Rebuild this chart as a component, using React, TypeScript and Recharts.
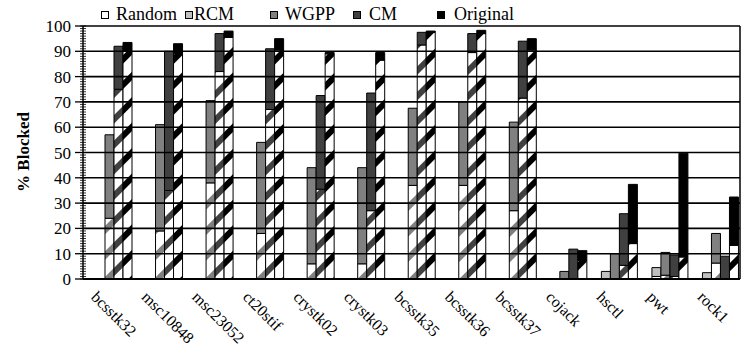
import React from "react";
import { BarChart, Bar, XAxis, YAxis, ReferenceLine } from "recharts";

const CATEGORIES = [
  "bcsstk32", "msc10848", "msc23052", "ct20stif", "crystk02", "crystk03",
  "bcsstk35", "bcsstk36", "bcsstk37", "cojack", "hsctl", "pwt", "rock1",
];

// total bar height, and the hatched (lower) part of it
const RANDOM_TOTAL = [0, 0, 0, 0, 0, 0, 0, 0, 0, 0, 0, 0, 0];
const RANDOM_HATCHED = [0, 0, 0, 0, 0, 0, 0, 0, 0, 0, 0, 0, 0];
const RCM_TOTAL = [0, 0, 0, 0, 0, 0, 0, 0, 0, 0, 3, 4.5, 2.5];
const RCM_HATCHED = [0, 0, 0, 0, 0, 0, 0, 0, 0, 0, 0, 1, 0];
const WGPP_TOTAL = [57, 61, 70.5, 54, 44, 44, 67.5, 70, 62, 3, 10, 10.5, 18];
const WGPP_HATCHED = [24, 19, 38, 18, 6, 6, 37, 37, 27, 0, 0, 1.5, 6.3];
const CM_TOTAL = [92, 90, 97, 91, 72.5, 73.5, 97.5, 97, 94, 11.8, 25.8, 9.5, 9];
const CM_HATCHED = [75, 35, 82, 67, 35.5, 27, 92.5, 89.5, 71.5, 0, 5.4, 1, 0];
const ORIG_TOTAL = [93.5, 93, 98, 95, 89.5, 89.5, 98, 98.3, 95, 11.2, 37.4, 49.7, 32.4];
const ORIG_HATCHED = [90, 89, 95.5, 90.5, 89, 86.5, 97.5, 97, 90.5, 7.4, 14, 8.7, 13.3];

const MAJOR_TICKS = [0, 10, 20, 30, 40, 50, 60, 70, 80, 90, 100];
const MINOR_TICKS = Array.from({ length: 101 }, (_, i) => i);

const SERIES = [
  { key: "random", name: "Random", color: "#ffffff", total: RANDOM_TOTAL, hatched: RANDOM_HATCHED },
  { key: "rcm", name: "RCM", color: "#c0c0c0", total: RCM_TOTAL, hatched: RCM_HATCHED },
  { key: "wgpp", name: "WGPP", color: "#808080", total: WGPP_TOTAL, hatched: WGPP_HATCHED },
  { key: "cm", name: "CM", color: "#404040", total: CM_TOTAL, hatched: CM_HATCHED },
  { key: "orig", name: "Original", color: "#000000", total: ORIG_TOTAL, hatched: ORIG_HATCHED },
];

const data = CATEGORIES.map((name, i) => {
  const row: Record<string, string | number> = { name };
  SERIES.forEach((s) => {
    row[s.key + "H"] = s.hatched[i];
    row[s.key + "T"] = s.total[i] - s.hatched[i];
  });
  return row;
});

const FONT = "'Liberation Serif', 'Times New Roman', serif";

function LeftTick({ x, y, payload }: any) {
  const v = payload.value;
  const major = v % 10 === 0;
  return (
    <g>
      <line x1={x - 3} x2={x + 3} y1={y} y2={y} stroke="#000" strokeWidth={0.8} />
      {major && <line x1={x - 8} x2={x} y1={y} y2={y} stroke="#000" strokeWidth={1.3} />}
      {major && (
        <text x={x - 12} y={y} dy={6} textAnchor="end" fontSize={17} fontFamily={FONT} fill="#000">
          {v}
        </text>
      )}
    </g>
  );
}

function RightTick({ x, y }: any) {
  return <line x1={x - 3} x2={x + 3} y1={y} y2={y} stroke="#000" strokeWidth={0.8} />;
}

function CatTick({ x, y, payload }: any) {
  const tx = x - 18;
  const ty = y + 19;
  return (
    <text
      x={tx}
      y={ty}
      transform={`rotate(45, ${tx}, ${ty})`}
      fontSize={16}
      fontFamily={FONT}
      fill="#000"
    >
      {payload.value}
    </text>
  );
}

const LEGEND_SQ = [101, 185, 270, 353, 437];
const LEGEND_TX = [116, 194, 285, 369, 454];

function LegendOverlay() {
  return (
    <>
      {SERIES.map((s, i) => (
        <React.Fragment key={s.key}>
          <div
            style={{
              position: "absolute",
              left: LEGEND_SQ[i],
              top: 11,
              width: 6,
              height: 6,
              background: s.color,
              border: "1px solid #000",
            }}
          />
          <div
            style={{
              position: "absolute",
              left: LEGEND_TX[i],
              top: 4,
              lineHeight: "20px",
              fontSize: 18,
              fontFamily: FONT,
              color: "#000",
              whiteSpace: "nowrap",
            }}
          >
            {s.name}
          </div>
        </React.Fragment>
      ))}
    </>
  );
}

export default function App() {
  return (
    <div style={{ position: "absolute", left: 0, top: 0, width: 744, height: 350, background: "#fff" }}>
      <BarChart
        width={744}
        height={350}
        data={data}
        margin={{ top: 26, right: 0, left: 0, bottom: 0 }}
        barCategoryGap={4}
        barGap={0}
      >
        <defs>
          {SERIES.map((s) => (
            <pattern
              key={s.key}
              id={`hatch-${s.key}`}
              width={18}
              height={18}
              patternUnits="userSpaceOnUse"
              patternTransform="rotate(45)"
            >
              <rect x={0} y={0} width={18} height={18} fill="#fff" />
              <rect x={0} y={0} width={6} height={18} fill={s.color} />
            </pattern>
          ))}
        </defs>
        <XAxis
          dataKey="name"
          height={71}
          interval={0}
          tickLine={false}
          tickSize={0}
          tickMargin={0}
          tick={<CatTick />}
          axisLine={{ stroke: "#000", strokeWidth: 2 }}
        />
        <YAxis
          width={83}
          domain={[0, 100]}
          ticks={MINOR_TICKS}
          interval={0}
          tickLine={false}
          tickSize={0}
          tickMargin={0}
          tick={<LeftTick />}
          axisLine={{ stroke: "#000", strokeWidth: 1.5 }}
        />
        <YAxis
          yAxisId="right"
          orientation="right"
          width={4}
          domain={[0, 100]}
          ticks={MINOR_TICKS}
          interval={0}
          tickLine={false}
          tickSize={0}
          tickMargin={0}
          tick={<RightTick />}
          axisLine={{ stroke: "#000", strokeWidth: 1.5 }}
        />
        {MAJOR_TICKS.slice(1).map((v) => (
          <ReferenceLine key={v} y={v} stroke="#000" strokeWidth={1.6} />
        ))}
        {SERIES.map((s) => [
          <Bar
            key={s.key + "H"}
            dataKey={s.key + "H"}
            stackId={s.key}
            fill={`url(#hatch-${s.key})`}
            stroke="#000"
            strokeWidth={1}
            isAnimationActive={false}
          />,
          <Bar
            key={s.key + "T"}
            dataKey={s.key + "T"}
            stackId={s.key}
            fill={s.color}
            stroke="#000"
            strokeWidth={1}
            isAnimationActive={false}
          />,
        ])}
      </BarChart>
      <LegendOverlay />
      <div
        style={{
          position: "absolute",
          left: 24,
          top: 152,
          transform: "translate(-50%, -50%) rotate(-90deg)",
          fontSize: 17,
          fontWeight: "bold",
          fontFamily: FONT,
          whiteSpace: "nowrap",
          color: "#000",
        }}
      >
        % Blocked
      </div>
    </div>
  );
}
